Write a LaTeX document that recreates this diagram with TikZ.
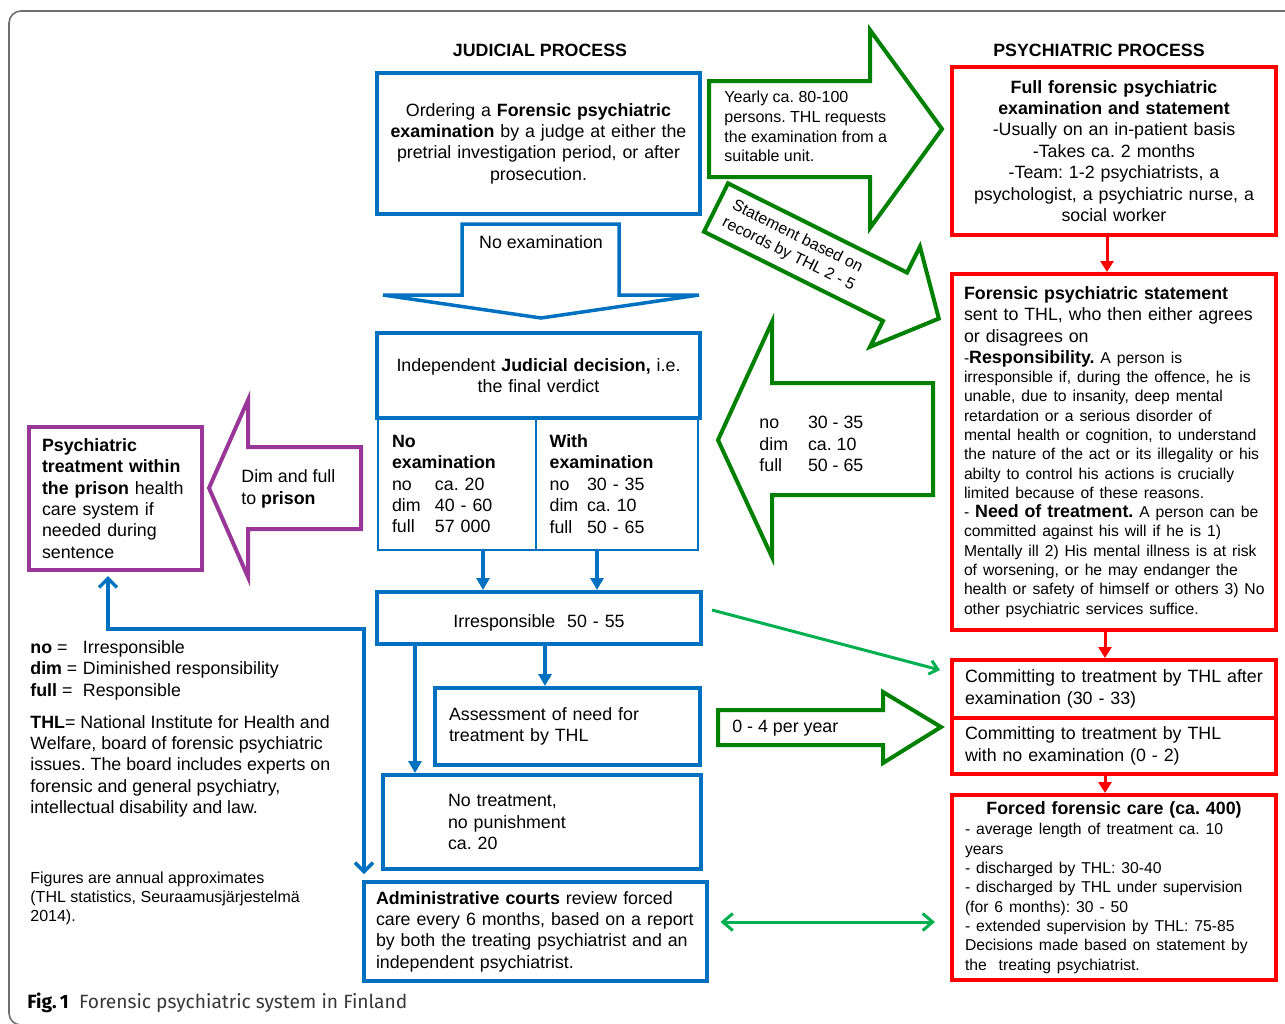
\documentclass[tikz,border=0pt]{standalone}
\usepackage{fontspec}
\setmainfont{Liberation Sans}
\newfontfamily\capfont{Fira Sans}
\usepackage{xcolor}
\usetikzlibrary{calc, arrows.meta}

\definecolor{cblue}{RGB}{0,112,192}
\definecolor{cred}{RGB}{255,0,0}
\definecolor{cgreen}{RGB}{0,128,0}
\definecolor{clgreen}{RGB}{0,176,80}
\definecolor{cpurple}{RGB}{153,55,153}
\definecolor{cframe}{RGB}{110,110,110}

\frenchspacing
\hyphenpenalty=10000
\exhyphenpenalty=10000

\newcommand{\fsz}{\fontsize{8.9}{10.7}\selectfont}
\newcommand{\fsm}{\fontsize{7.85}{9.65}\selectfont}
\newcommand{\fxs}{\fontsize{8}{9.85}\selectfont}
\newcommand{\tabcol}[2]{\makebox[#1][l]{#2}}

\tikzset{
  bluebox/.style={draw=cblue, line width=2pt, inner ysep=0pt, font=\fsz},
  cellbox/.style={draw=cblue, line width=1pt, inner ysep=0pt, font=\fsz, align=left},
  redbox/.style={draw=cred, line width=2pt, inner ysep=0pt, font=\fsz},
  purplebox/.style={draw=cpurple, line width=2pt, inner ysep=0pt, font=\fsz},
  plaintext/.style={font=\fsz, inner sep=0pt},
  bluearr/.style={draw=cblue, line width=1.75pt, -{Triangle[width=6.5pt,length=6pt]}},
  bluebarb/.style={draw=cblue, line width=1.75pt, {Straight Barb[width=9pt,length=4.5pt]}-{Straight Barb[width=9pt,length=4.5pt]}},
  redarr/.style={draw=cred, line width=1.5pt, -{Triangle[width=6.5pt,length=5.5pt]}},
  greenarr/.style={draw=clgreen, line width=1.5pt, -{Straight Barb[width=7pt,length=4pt]}},
  greenboth/.style={draw=clgreen, line width=1.5pt, {Straight Barb[width=8.5pt,length=5pt]}-{Straight Barb[width=8.5pt,length=5pt]}},
  blockarr/.style={line width=2pt, line join=miter},
}

\begin{document}
\begin{tikzpicture}[x=0.5pt, y=-0.5pt]

    % =================================================================
    % 0. PAGE AND FRAME
    % =================================================================
    \useasboundingbox (0,0) rectangle (1285,1023);
    \draw[cframe, line width=0.8pt, rounded corners=6pt] (9,11) rectangle (1300,1025);

    % =================================================================
    % 1. TITLES
    % =================================================================
    \node[plaintext, font=\fsz\bfseries] (judtitle) at (540,50) {JUDICIAL PROCESS};
    \node[plaintext, font=\fsz\bfseries] (psytitle) at (1099,50) {PSYCHIATRIC PROCESS};

    % =================================================================
    % 2. JUDICIAL PROCESS (BLUE BOXES)
    % =================================================================
    \node[bluebox, minimum width=161.5pt, minimum height=70.5pt, inner xsep=4pt,
          text width=153.5pt, align=center] (order) at (538.5,143.5)
        {Ordering a \textbf{Forensic psychiatric}\\ \textbf{examination} by a judge at either the\\
         pretrial investigation period, or after\\ prosecution.};

    \node[bluebox, minimum width=161.5pt, minimum height=42.5pt, inner xsep=4pt,
          text width=153.5pt, align=center] (verdict) at (538.5,375.5)
        {Independent \textbf{Judicial decision,} i.e.\\ the final verdict};

    \node[cellbox, minimum width=79pt, minimum height=66pt, inner xsep=7pt,
          text width=65pt] (noexam) at (457,484)
        {\textbf{No}\\ \textbf{examination}\\ \tabcol{21.5pt}{no}ca. 20\\
         \tabcol{21.5pt}{dim}40 - 60\\ \tabcol{21.5pt}{full}57 000};

    \node[cellbox, minimum width=81pt, minimum height=66pt, inner xsep=6.8pt,
          text width=67.4pt] (withexam) at (617,484)
        {\textbf{With}\\ \textbf{examination}\\ \tabcol{18.75pt}{no}30 - 35\\
         \tabcol{18.75pt}{dim}ca. 10\\ \tabcol{18.75pt}{full}50 - 65};

    \node[bluebox, minimum width=162pt, minimum height=26pt, inner xsep=4pt,
          text width=154pt, align=center] (irresp) at (539,618)
        {\rule{0pt}{11.5pt}Irresponsible\ \ 50 - 55};

    \node[bluebox, minimum width=132.5pt, minimum height=38.5pt, inner xsep=7pt,
          text width=118.5pt, align=left] (assess) at (567.5,726.5)
        {Assessment of need for\\ treatment by THL};

    \node[bluebox, minimum width=159pt, minimum height=47pt, inner xsep=32.5pt,
          text width=94pt, align=left] (notreat) at (542,822)
        {No treatment,\\ no punishment\\ ca. 20};

    \node[bluebox, minimum width=171.5pt, minimum height=49.5pt, inner xsep=6.25pt,
          text width=159pt, align=left] (admin) at (535,931.5)
        {\textbf{Administrative courts} review forced\\ care every 6 months, based on a report\\
         by both the treating psychiatrist and an\\ independent psychiatrist.};

    % Block arrow "No examination"
    \draw[cblue, blockarr, line width=1.75pt] (462,224) -- (619,224) -- (619,295) -- (699,295)
        -- (541,318) -- (383,295) -- (462,295) -- cycle;
    \node[plaintext] (noexamtxt) at (541,242) {No examination};

    % Connectors between the blue boxes
    \draw[bluearr] (noexam.south -| 483,0) -- (irresp.north -| 483,0);
    \draw[bluearr] (withexam.south -| 597,0) -- (irresp.north -| 597,0);
    \draw[bluearr] (irresp.south -| 545,0) -- (assess.north -| 545,0);
    \draw[bluearr] (irresp.south -| 415,0) -- (notreat.north -| 415,0);

    % =================================================================
    % 3. PRISON (PURPLE)
    % =================================================================
    \node[purplebox, minimum width=86.5pt, minimum height=71.5pt, inner xsep=6.5pt,
          text width=73.5pt, align=left] (prison) at (115.5,498.5)
        {\textbf{Psychiatric}\\ \textbf{treatment within}\\ \textbf{the prison} health\\
         care system if\\ needed during\\ sentence};

    \draw[cpurple, blockarr] (361,447) -- (248,447) -- (248,400) -- (209,488) -- (248,577)
        -- (248,529) -- (361,529) -- cycle;
    \node[plaintext, anchor=west, align=left] (prisontxt) at (241,489)
        {Dim and full\\ to \textbf{prison}};

    \draw[bluebarb, shorten <=2pt, shorten >=3pt]
        (prison.south -| 108,0) -- (108,629) -- (364,629) -- (admin.north -| 364,0);

    % =================================================================
    % 4. PSYCHIATRIC PROCESS (RED BOXES)
    % =================================================================
    \node[redbox, minimum width=162pt, minimum height=84pt, inner xsep=4pt,
          text width=154pt, align=center] (fullexam) at (1114,151)
        {\textbf{Full forensic psychiatric}\\ \textbf{examination and statement}\\
         -Usually on an in-patient basis\\ -Takes ca. 2 months\\ -Team: 1-2 psychiatrists, a\\
         psychologist, a psychiatric nurse, a\\ social worker};

    \node[redbox, minimum width=162pt, minimum height=178pt, inner xsep=6pt,
          text width=150pt, align=left] (stmt) at (1114,452)
        {\textbf{Forensic psychiatric statement}\\ sent to THL, who then either agrees\\
         or disagrees on\par\vskip0.8pt
         {\fsm -{\fsz\bfseries Responsibility.} A person is\\
          irresponsible if, during the offence, he is\\ unable, due to insanity, deep mental\\
          retardation or a serious disorder of\\ mental health or cognition, to understand\\
          the nature of the act or its illegality or his\\ abilty to control his actions is crucially\\
          limited because of these reasons.\\
          - {\fsz\bfseries Need of treatment.} A person can be\\
          committed against his will if he is 1)\\ Mentally ill 2) His mental illness is at risk\\
          of worsening, or he may endanger the\\ \mbox{health or safety of himself or others 3) No}\\
          other psychiatric services suffice.\par}};

    \node[redbox, minimum width=162pt, minimum height=29pt, inner xsep=6.5pt,
          text width=149pt, align=left] (comex) at (1114,689)
        {Committing to treatment by THL after\\ examination (30 - 33)};

    \node[redbox, minimum width=162pt, minimum height=28pt, inner xsep=6.5pt,
          text width=149pt, align=left] (comnoex) at (1114,746)
        {Committing to treatment by THL\\ with no examination (0 - 2)};

    \node[redbox, minimum width=162pt, minimum height=92.5pt, inner xsep=6.5pt,
          text width=149pt, align=left] (forced) at (1114,887.5)
        {{\centering\bfseries Forced forensic care (ca. 400)\par}\vskip0.5pt
         {\fsm - average length of treatment ca. 10\\ years\\ - discharged by THL: 30-40\\
          - discharged by THL under supervision\\ (for 6 months): 30 - 50\\
          - extended supervision by THL: 75-85\\ Decisions made based on statement by\\
          the\ \ treating psychiatrist.\par}};

    \draw[redarr] ([xshift=-3.5pt]fullexam.south) -- ([xshift=-3.5pt]fullexam.south |- stmt.north);
    \draw[redarr] ([xshift=-4.5pt]stmt.south) -- ([xshift=-4.5pt]stmt.south |- comex.north);
    \draw[redarr] ([xshift=-4.5pt]comnoex.south) -- ([xshift=-4.5pt]comnoex.south |- forced.north);

    % =================================================================
    % 5. GREEN BLOCK ARROWS AND CONNECTORS
    % =================================================================
    % Examination request
    \draw[cgreen, blockarr] (709,81) -- (870,81) -- (870,30) -- (942,129) -- (870,228)
        -- (870,177) -- (709,177) -- cycle;
    \node[plaintext, font=\fxs, anchor=west, align=left] (requesttxt) at (724,126.5)
        {Yearly ca. 80-100\\ persons. THL requests\\ the examination from a\\ suitable unit.};

    % Statement based on records (tilted)
    \begin{scope}[shift={(716,207.5)}, rotate=-26.5]
        \draw[cgreen, blockarr] (0,-27) -- (200,-27) -- (200,-56) -- (249,0) -- (200,56)
            -- (200,27) -- (0,27) -- cycle;
        \node[plaintext, font=\fxs, align=center, rotate=-26.5] (recordstxt) at (86,0)
            {Statement based on\\ records by THL 2 - 5};
    \end{scope}

    % Results back to the court
    \draw[cgreen, blockarr] (933,383) -- (772,383) -- (772,322) -- (718,440) -- (772,557)
        -- (772,495) -- (933,495) -- cycle;
    \node[plaintext, anchor=west, align=left] (backtxt) at (759,444)
        {\tabcol{24.3pt}{no}30 - 35\\ \tabcol{24.3pt}{dim}ca. 10\\ \tabcol{24.3pt}{full}50 - 65};

    % Committing without examination
    \draw[cgreen, blockarr] (718,710) -- (883,710) -- (883,692) -- (941,727) -- (883,763)
        -- (883,745) -- (718,745) -- cycle;
    \node[plaintext, anchor=west] (peryeartxt) at (732,728) {0 - 4 per year};

    \draw[greenarr] ($(irresp.east)+(4.5pt,4pt)$) -- ($(comex.west)+(-5pt,9.5pt)$);
    \draw[greenboth] ($(admin.east)+(6pt,4.75pt)$) -- ($(forced.west)+(-7.5pt,-17.25pt)$);

    % =================================================================
    % 6. LEGEND, NOTE AND CAPTION
    % =================================================================
    \node[plaintext, anchor=west, align=left] (legend) at (30,729)
        {\tabcol{26.3pt}{\textbf{no} =}Irresponsible\\
         \tabcol{26.3pt}{\textbf{dim} =}Diminished responsibility\\
         \tabcol{26.3pt}{\textbf{full} =}Responsible\\[5.25pt]
         \textbf{THL}= National Institute for Health and\\ Welfare, board of forensic psychiatric\\
         issues. The board includes experts on\\ forensic and general psychiatry,\\
         intellectual disability and law.};

    \node[plaintext, font=\fontsize{8}{9.5}\selectfont, anchor=west, align=left] (note) at (30,898)
        {Figures are annual approximates\\ (THL statistics, Seuraamusjärjestelmä\\ 2014).};

    \node[plaintext, font=\capfont\fontsize{9.6}{11}\selectfont, anchor=west, text=black!78] (caption) at (27,1003)
        {\textcolor{black}{\bfseries Fig.\,1}\ \ Forensic psychiatric system in Finland};

\end{tikzpicture}
\end{document}
